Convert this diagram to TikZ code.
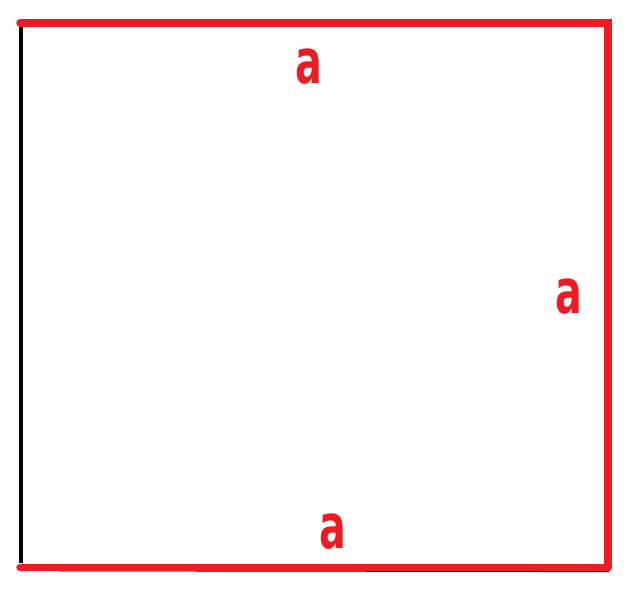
\documentclass[tikz,border=0pt]{standalone}
\usepackage{fontspec}
\newfontfamily\labfont[FakeStretch=0.64]{DejaVu Sans Bold}
\definecolor{pred}{RGB}{237,28,36}
\tikzset{
  redside/.style={draw=pred, line width=7.5pt, line cap=round},
  blackside/.style={draw=black, line width=4.5pt},
  thinblack/.style={draw=black, line width=1.2pt},
  sidelabel/.style={text=pred, inner sep=0pt, font=\labfont\fontsize{62}{62}\selectfont}
}
\begin{document}
\begin{tikzpicture}[x=1pt,y=1pt]
\useasboundingbox (0,0) rectangle (631,597);
\fill[white] (0,0) rectangle (631,597);
% corners
\coordinate (tl) at (20,574.2);
\coordinate (tr) at (608,574.2);
\coordinate (br) at (608,29.5);
\coordinate (bl) at (20,29.5);
\coordinate (kt) at (21,571);
\coordinate (kb) at (21,34);
\coordinate (ul) at (60,26.3);
\coordinate (ur) at (609,25.5);
% black sides
\draw[blackside] (kt) -- (kb);
\draw[thinblack] (ul) -- (ur);
% red sides
\draw[redside] (tl) -- (tr) -- (br);
\draw[redside] (bl) -- (br);
% labels
\node[sidelabel] (la) at (309,530) {a};
\node[sidelabel] (lb) at (568.5,300) {a};
\node[sidelabel] (lc) at (333,65) {a};
\end{tikzpicture}
\end{document}
